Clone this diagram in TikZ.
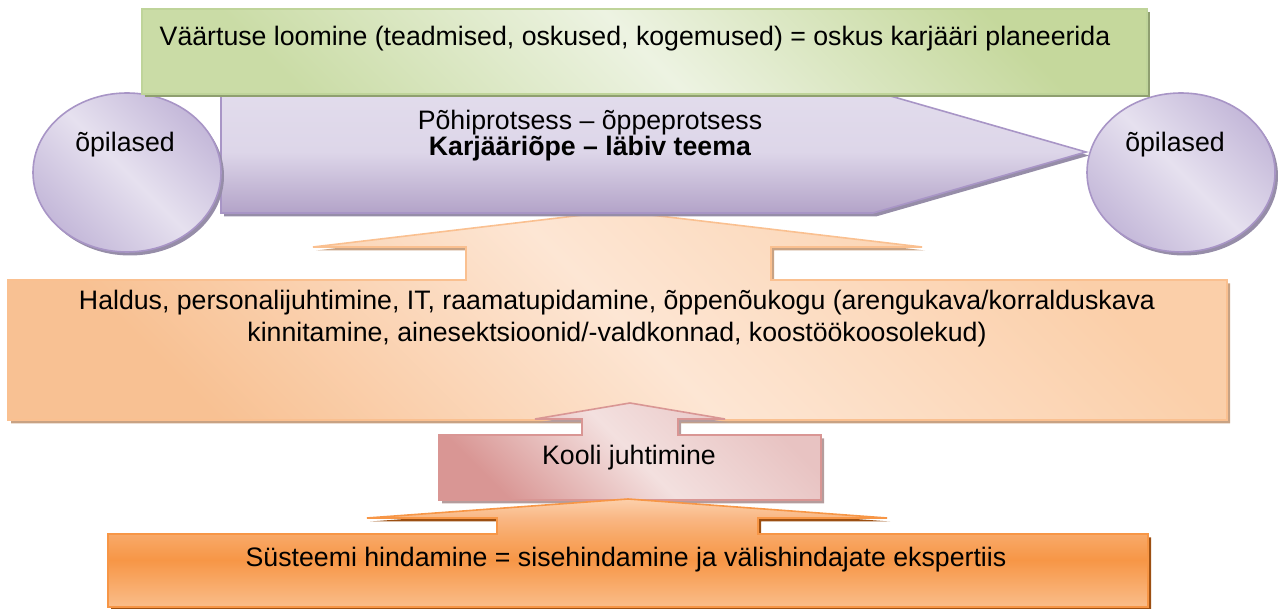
\documentclass[tikz,border=0pt]{standalone}
\usepackage{fontspec}
\setmainfont{Liberation Sans}
\usetikzlibrary{shadows}
\definecolor{gDark}{HTML}{CADCA6}
\definecolor{gDark2}{HTML}{C5D89C}
\definecolor{gLight}{HTML}{EDF3E2}
\definecolor{gLine}{HTML}{BFD49A}
\definecolor{gShd}{HTML}{8F9F70}
\definecolor{pTop}{HTML}{E2DCEC}
\definecolor{pMid}{HTML}{DDD6E9}
\definecolor{pBot}{HTML}{B3A3C8}
\definecolor{pLine}{HTML}{A895C6}
\definecolor{pShd}{HTML}{968DA8}
\definecolor{cDark}{HTML}{C4B8D9}
\definecolor{cLight}{HTML}{E6E1EF}
\definecolor{oDark}{HTML}{F8C193}
\definecolor{oDark2}{HTML}{FBCFA9}
\definecolor{oLight}{HTML}{FDE6D4}
\definecolor{oLine}{HTML}{FAC090}
\definecolor{oShd}{HTML}{C8A283}
\definecolor{kDark}{HTML}{D99694}
\definecolor{kLight}{HTML}{F3E0DF}
\definecolor{kMidd}{HTML}{E8C3C2}
\definecolor{kLine}{HTML}{D99694}
\definecolor{kShd}{HTML}{B59C9C}
\definecolor{bTop}{HTML}{FCD0AB}
\definecolor{bHead}{HTML}{F9B784}
\definecolor{bUp}{HTML}{F8A866}
\definecolor{bMid}{HTML}{F79646}
\definecolor{bBot}{HTML}{FABD8A}
\definecolor{bLine}{HTML}{F79646}
\definecolor{bShd}{HTML}{9C4F12}
\pgfdeclareverticalshading{botshade}{100bp}{color(0bp)=(bBot); color(25bp)=(bBot);
  color(46.8bp)=(bMid); color(57.9bp)=(bUp); color(66.2bp)=(bHead); color(75bp)=(bTop); color(100bp)=(bTop)}
\tikzset{
  shp/.style={line width=1.6pt, line join=miter},
  shdw/.style={drop shadow={shadow xshift=3pt, shadow yshift=-3.5pt, fill=#1, opacity=1}},
  diag/.style n args={3}{bottom color=#1, top color=#3, middle color=#2, shading angle=-45},
  txt/.style={inner sep=0pt, text=black, font=\fontsize{26.7}{30}\selectfont},
}
\begin{document}
\begin{tikzpicture}[x=1pt,y=-1pt]
\useasboundingbox (0,0) rectangle (1278,609);

% middle orange callout
\path[shp, shdw=oShd, draw=oLine, diag={oDark}{oLight}{oDark2}]
  (8,420) -- (8,280) -- (466,280) -- (466,247) -- (313,247) -- (617,211) -- (922,247)
  -- (771,247) -- (771,280) -- (1227,280) -- (1227,420) -- cycle;

% purple pentagon arrow
\path[shp, shdw=pShd, draw=pLine, top color=pTop, bottom color=pBot, middle color=pMid]
  (221,91) -- (873,91) -- (1086,152) -- (873,213) -- (221,213) -- cycle;

% circles
\path[shp, shdw=pShd, draw=pLine, diag={cDark}{cLight}{cDark}]
  (127,172.5) ellipse [x radius=94, y radius=79.5];
\path[shp, shdw=pShd, draw=pLine, diag={cDark}{cLight}{cDark}]
  (1181,172.5) ellipse [x radius=94, y radius=79.5];

% green box
\path[shp, shdw=gShd, draw=gLine, diag={gDark}{gLight}{gDark2}]
  (142,9) rectangle (1147,94);

% pink callout
\path[shp, shdw=kShd, draw=kLine, diag={kDark}{kLight}{kMidd}]
  (439,500) -- (439,435) -- (582,435) -- (582,419) -- (535,419) -- (630,403) -- (725,419)
  -- (678,419) -- (678,435) -- (821,435) -- (821,500) -- cycle;

% bottom orange callout
\path[shp, shdw=bShd, draw=bLine, shading=botshade]
  (108,607) -- (108,534) -- (497,534) -- (497,518) -- (367,518) -- (628,499) -- (887,518)
  -- (758,518) -- (758,534) -- (1148,534) -- (1148,607) -- cycle;

% texts
\node[txt] (val) at (635,39) {Väärtuse loomine (teadmised, oskused, kogemused) = oskus karjääri planeerida};
\node[txt, align=center, font=\fontsize{26.7}{26}\selectfont] (pohi) at (590,136)
  {Põhiprotsess – õppeprotsess\\\textbf{Karjääriõpe – läbiv teema}};
\node[txt] (op1) at (125,145) {õpilased};
\node[txt] (op2) at (1175,145) {õpilased};
\node[txt, align=center, font=\fontsize{26.7}{32}\selectfont] (hald) at (617,319)
  {Haldus, personalijuhtimine, IT, raamatupidamine, õppenõukogu (arengukava/korralduskava\\
   kinnitamine, ainesektsioonid/-valdkonnad, koostöökoosolekud)};
\node[txt] (kooli) at (629,458) {Kooli juhtimine};
\node[txt] (syst) at (626,560) {Süsteemi hindamine = sisehindamine ja välishindajate ekspertiis};
\end{tikzpicture}
\end{document}
